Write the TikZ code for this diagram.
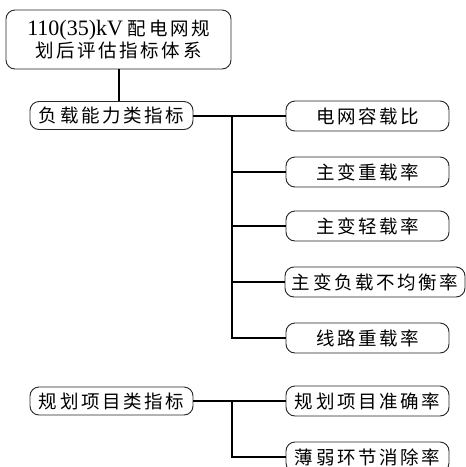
\documentclass[tikz,border=0pt]{standalone}
\usepackage{fontspec}
\setmainfont{Liberation Serif}
\newfontfamily\cjk[LetterSpace=14]{Noto Sans CJK SC}
\tikzset{
  base/.style={draw=black!85, line width=0.9pt, rounded corners=9pt, inner sep=0pt, align=center,
    font=\cjk\fontsize{18.5}{23}\selectfont},
  leaf/.style={base, minimum width=163pt, minimum height=30pt},
  grp/.style={base, minimum width=163pt, minimum height=28pt},
  conn/.style={draw=black, line width=2pt}
}
\begin{document}
\begin{tikzpicture}[x=1pt,y=-1pt]
\useasboundingbox (0,0) rectangle (466,467);
\clip (0,0) rectangle (466,467);
\node[base, minimum width=225pt, minimum height=59pt] (root) at (118.5,39.5)
  {{\fontspec{Liberation Serif}\fontsize{22}{23}\selectfont 110(35)kV}\hspace{5pt}配电网规\\[-1pt]划后评估指标体系};
\node[grp] (g1) at (111.5,115.5) {负载能力类指标};
\node[grp] (g2) at (111.5,401) {规划项目类指标};
\node[leaf] (c1) at (367.5,116) {电网容载比};
\node[leaf] (c2) at (367.5,172) {主变重载率};
\node[leaf] (c3) at (367.5,226) {主变轻载率};
\node[leaf, minimum width=180pt] (c4) at (375,282) {主变负载不均衡率};
\node[leaf] (c5) at (367.5,338) {线路重载率};
\node[leaf] (c6) at (367.5,401) {规划项目准确率};
\node[leaf] (c7) at (367.5,457) {薄弱环节消除率};
\coordinate (t1) at (232,116);
\coordinate (t2) at (232,401);
\draw[conn] (root.south) -- (root.south |- g1.north);
\draw[conn] (g1.east |- t1) -- (c1.west);
\draw[conn] (t1) |- (c5.west);
\draw[conn] (t1 |- c2.west) -- (c2.west);
\draw[conn] (t1 |- c3.west) -- (c3.west);
\draw[conn] (t1 |- c4.west) -- (c4.west);
\draw[conn] (g2.east) -- (c6.west);
\draw[conn] (t2) |- (c7.west);
\end{tikzpicture}
\end{document}
